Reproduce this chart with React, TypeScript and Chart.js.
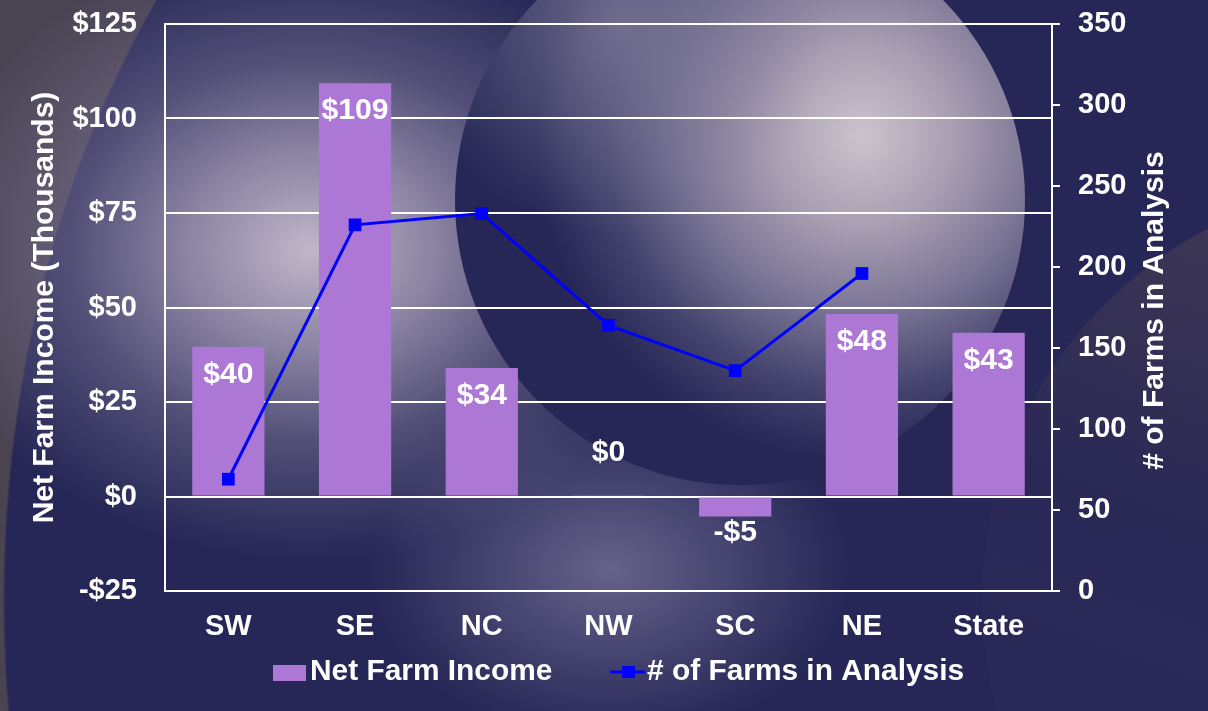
import React, { useEffect, useRef } from "react";
import { Chart, registerables } from "chart.js";

Chart.register(...registerables);

// ---- data ----
const categories = ["SW", "SE", "NC", "NW", "SC", "NE", "State"];
const netFarmIncome = [39.6, 109.3, 34, 0.3, -5.3, 48.3, 43.3];
const farmsInAnalysis: (number | null)[] = [69, 226, 233, 164, 136, 196, null];
const incomeAxis = { min: -25, max: 125, step: 25 };
const farmsAxis = { min: 0, max: 350, step: 50 };
const seriesLabels = ["Net Farm Income", "# of Farms in Analysis"];
const axisTitles = ["Net Farm Income (Thousands)", "# of Farms in Analysis"];

const FONT = "'Liberation Sans', Arial, Helvetica, sans-serif";
const BAR_COLOR = "#AD77D6";
const LINE_COLOR = "#0000FF";
const W = 1208;
const H = 711;

const fmtMoney = (v: number) => {
  const r = Math.round(Math.abs(v));
  return (v < 0 && r !== 0 ? "-$" : "$") + r;
};

const overlayPlugin = {
  id: "overlay",
  afterDatasetsDraw(chart: any) {
    const ctx = chart.ctx as CanvasRenderingContext2D;
    const meta = chart.getDatasetMeta(0);
    ctx.save();
    ctx.fillStyle = "#ffffff";
    ctx.font = `bold 29px ${FONT}`;
    ctx.textAlign = "center";
    ctx.textBaseline = "middle";
    meta.data.forEach((el: any, i: number) => {
      const v = netFarmIncome[i];
      const { x, y, base } = el.getProps(["x", "y", "base"], true);
      let ty: number;
      if (v < 0) ty = y + 16;
      else if (base - y >= 40) ty = y + 28;
      else ty = y - 42;
      ctx.save();
      ctx.translate(x, ty);
      ctx.scale(1.04, 1);
      ctx.fillText(fmtMoney(v), 0, 0);
      ctx.restore();
    });
    ctx.restore();
  },
  afterDraw(chart: any) {
    const ctx = chart.ctx as CanvasRenderingContext2D;
    const area = chart.chartArea;
    ctx.save();
    // right axis title (reads bottom-to-top)
    ctx.fillStyle = "#ffffff";
    ctx.font = `bold 30px ${FONT}`;
    ctx.textAlign = "center";
    ctx.textBaseline = "middle";
    ctx.translate(1155, (area.top + area.bottom) / 2 + 3);
    ctx.rotate(-Math.PI / 2);
    ctx.fillText(axisTitles[1], 0, 0);
    ctx.restore();

    // legend
    ctx.save();
    ctx.font = `bold 29px ${FONT}`;
    ctx.textBaseline = "middle";
    ctx.textAlign = "left";
    const ly = 672;
    ctx.fillStyle = BAR_COLOR;
    ctx.fillRect(273, ly - 7, 33, 16);
    ctx.fillStyle = "#ffffff";
    ctx.save();
    ctx.translate(310, ly);
    ctx.scale(1.03, 1);
    ctx.fillText(seriesLabels[0], 0, 0);
    ctx.restore();

    ctx.strokeStyle = LINE_COLOR;
    ctx.lineWidth = 3;
    ctx.beginPath();
    ctx.moveTo(610, ly);
    ctx.lineTo(645, ly);
    ctx.stroke();
    ctx.fillStyle = LINE_COLOR;
    ctx.fillRect(622, ly - 6, 13, 12);
    ctx.fillStyle = "#ffffff";
    ctx.save();
    ctx.translate(647, ly);
    ctx.scale(1.03, 1);
    ctx.fillText(seriesLabels[1], 0, 0);
    ctx.restore();
    ctx.restore();
  },
};

export default function App() {
  const canvasRef = useRef<HTMLCanvasElement | null>(null);

  useEffect(() => {
    document.body.style.margin = "0";
    const canvas = canvasRef.current;
    if (!canvas) return;
    const tickFont = { family: FONT, size: 29, weight: "bold" as const };
    const chart = new Chart(canvas, {
      type: "bar",
      data: {
        labels: categories,
        datasets: [
          {
            type: "bar",
            label: seriesLabels[0],
            data: netFarmIncome,
            yAxisID: "y",
            backgroundColor: BAR_COLOR,
            borderWidth: 0,
            barPercentage: 0.57,
            categoryPercentage: 1,
            order: 2,
          } as any,
          {
            type: "line",
            label: seriesLabels[1],
            data: farmsInAnalysis,
            yAxisID: "y1",
            borderColor: LINE_COLOR,
            backgroundColor: LINE_COLOR,
            borderWidth: 3,
            pointStyle: "rect",
            pointRadius: 9,
            pointHoverRadius: 9,
            pointBorderWidth: 0,
            tension: 0,
            spanGaps: false,
            order: 1,
          } as any,
        ],
      },
      options: {
        responsive: false,
        animation: false,
        devicePixelRatio: 1,
        layout: { padding: { top: 24, left: 0, right: 0, bottom: 0 } },
        plugins: {
          legend: { display: false },
          tooltip: { enabled: false },
        },
        scales: {
          x: {
            grid: { display: false, drawTicks: false },
            border: { display: true, color: "#ffffff", width: 2 },
            ticks: { color: "#ffffff", font: { family: FONT, size: 29, weight: "bold" }, padding: 19 },
            afterFit: (s: any) => {
              s.height = 120;
            },
          },
          y: {
            position: "left",
            min: incomeAxis.min,
            max: incomeAxis.max,
            ticks: {
              stepSize: incomeAxis.step,
              color: "#ffffff",
              font: tickFont,
              padding: 28,
              callback: (v: any) => fmtMoney(Number(v)),
            },
            grid: { color: "#ffffff", lineWidth: 2, drawTicks: false },
            border: { display: true, color: "#ffffff", width: 2 },
            title: {
              display: true,
              text: axisTitles[0],
              color: "#ffffff",
              font: { family: FONT, size: 30, weight: "bold" },
              padding: { top: 27, bottom: 0 },
            },
            afterFit: (s: any) => {
              s.width = 165;
              s.paddingTop = 0;
              s.paddingBottom = 0;
            },
          },
          y1: {
            position: "right",
            min: farmsAxis.min,
            max: farmsAxis.max,
            ticks: { stepSize: farmsAxis.step, color: "#ffffff", font: tickFont, padding: 18 },
            grid: { drawOnChartArea: false, color: "#ffffff", lineWidth: 2, tickLength: 8 },
            border: { display: true, color: "#ffffff", width: 2 },
            afterFit: (s: any) => {
              s.width = 156;
              s.paddingTop = 0;
              s.paddingBottom = 0;
            },
          },
        },
      } as any,
      plugins: [overlayPlugin],
    });
    return () => chart.destroy();
  }, []);

  const bg = [
    "radial-gradient(ellipse 390px 310px at 310px 250px, rgba(205,195,210,0.92) 0%, rgba(172,162,187,0.75) 32%, rgba(125,118,152,0.5) 62%, rgba(38,39,87,0) 100%)",
    "radial-gradient(ellipse 240px 170px at 610px 570px, rgba(165,155,190,0.5) 0%, rgba(38,39,87,0) 100%)",
    "radial-gradient(ellipse 697px 962px at 700px 600px, rgba(0,0,0,0) 99.7%, #4a4352 100%)",
    "#262756",
  ].join(", ");

  return (
    <div style={{ position: "relative", width: W, height: H, overflow: "hidden", background: bg }}>
      <div
        style={{
          position: "absolute",
          left: 1400 - 418,
          top: 600 - 418,
          width: 836,
          height: 836,
          borderRadius: "50%",
          background: "linear-gradient(200deg, #4a4256 0%, #3a3454 28%, #2a2956 50%, #272757 100%)",
        }}
      />
      <div
        style={{
          position: "absolute",
          left: 740 - 285,
          top: 200 - 285,
          width: 570,
          height: 570,
          borderRadius: "50%",
          background: [
            "radial-gradient(circle 210px at 165px 110px, rgba(130,125,155,0.75) 0%, rgba(130,125,155,0) 100%)",
            "radial-gradient(circle 330px at 407px 221px, #ccc3cd 0px, #a99fb2 90px, #7a7595 175px, #45446f 255px, #262756 325px)",
          ].join(", "),
        }}
      />
      <canvas ref={canvasRef} width={W} height={H} style={{ position: "absolute", left: 0, top: 0, display: "block" }} />
    </div>
  );
}
